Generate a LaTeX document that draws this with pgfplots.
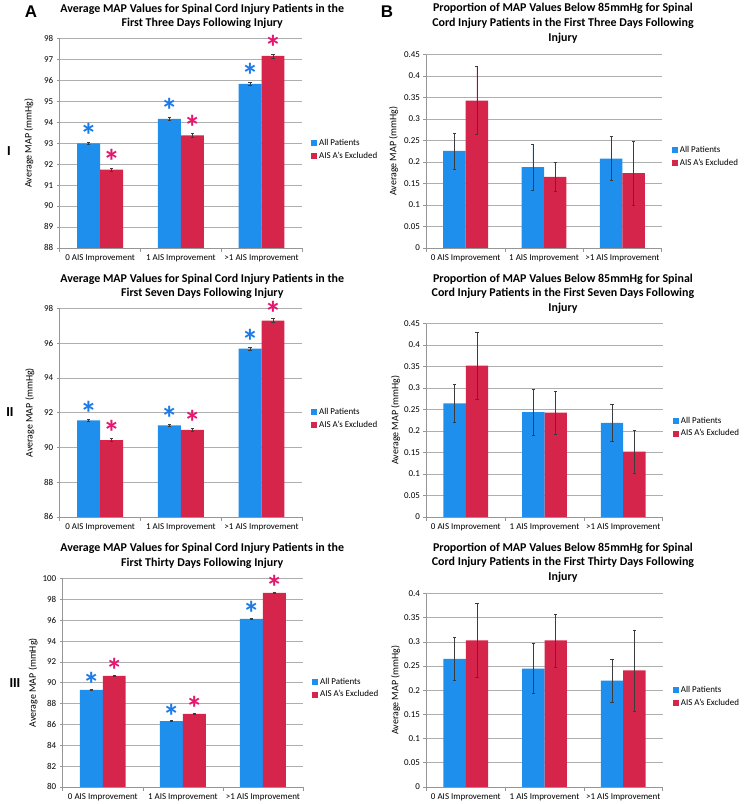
\documentclass[border=0pt]{standalone}
\usepackage{pgfplots}
\pgfplotsset{compat=1.18}
\usepackage{fontspec}
\setmainfont{Carlito}
\newfontfamily\letterfont{Liberation Sans}
\definecolor{barblue}{RGB}{31,143,238}
\definecolor{barred}{RGB}{214,37,74}
\definecolor{starblue}{RGB}{28,122,232}
\definecolor{starred}{RGB}{228,22,110}
\definecolor{gridgray}{RGB}{175,175,175}
\definecolor{axgray}{RGB}{150,150,150}
\definecolor{errgray}{RGB}{60,60,60}
\newcommand\tfont{\fontsize{12}{14.7}\selectfont\bfseries}
\newcommand\sfont{\fontsize{9}{10.5}\selectfont}
\newcommand\lfont{\fontsize{10}{12}\selectfont}
\newcommand\starfont{\fontsize{34}{34}\selectfont\bfseries}
\pgfplotsset{
 mapbase/.style={
  scale only axis,
  ybar=0pt, bar width=23pt,
  xmin=-0.5, xmax=2.5,
  xtick={0,1,2},
  xticklabels={0 AIS Improvement,1 AIS Improvement,>1 AIS Improvement},
  major x tick style={draw=none},
  extra x ticks={-0.5,0.5,1.5,2.5},
  extra x tick labels={},
  extra x tick style={major tick length=4pt, major x tick style={draw=axgray, line width=0.6pt}, grid=none},
  axis x line*=bottom, axis y line*=left,
  axis line style={draw=axgray, line width=0.7pt, -},
  tick align=outside, major tick length=3pt,
  major y tick style={draw=axgray, line width=0.6pt},
  ymajorgrids, grid style={draw=gridgray, line width=0.6pt},
  tick label style={font=\sfont, text=black},
  /pgf/number format/assume math mode=true,
  scaled y ticks=false,
  legend style={draw=none, fill=none, font=\sfont, anchor=west, row sep=1pt,
    /tikz/every even column/.append style={column sep=2pt}},
  legend cell align=left,
  legend image code/.code={\fill[##1, draw=none] (0pt,-3pt) rectangle (6pt,3pt);},
  ylabel={Average MAP (mmHg)},
  ylabel style={font=\lfont},
 },
 errs/.style={
   error bars/y dir=both, error bars/y explicit,
   error bars/error bar style={draw=errgray, line width=0.5pt},
   error bars/error mark options={rotate=90, mark size=1.6pt, draw=errgray, line width=0.5pt}},
 bluebar/.style={fill=barblue, draw=none, errs},
 redbar/.style={fill=barred, draw=none, errs},
 bluestar/.style={nodes near coords={*},
   every node near coord/.append style={font=\starfont, text=starblue, anchor=base, yshift=#1}},
 redstar/.style={nodes near coords={*},
   every node near coord/.append style={font=\starfont, text=starred, anchor=base, yshift=#1}},
}
\begin{document}
\begin{tikzpicture}
\path (0pt,0pt) rectangle (741pt,-804pt);
% ---------- panel letters and row numerals
\node[font=\letterfont\fontsize{17}{17}\selectfont\bfseries] at (31pt,-8.5pt) {A};
\node[font=\letterfont\fontsize{17}{17}\selectfont\bfseries] at (388.5pt,-8.5pt) {B};
\node[font=\letterfont\fontsize{13}{13}\selectfont\bfseries] at (9pt,-148.5pt) {I};
\node[font=\letterfont\fontsize{13}{13}\selectfont\bfseries] at (10pt,-411pt) {II};
\node[font=\letterfont\fontsize{13}{13}\selectfont\bfseries] at (15pt,-682.5pt) {III};
% ---------- titles
\node[align=center, font=\tfont] at (203pt,-13.5pt) {Average MAP Values for Spinal Cord Injury Patients in the\\First Three Days Following Injury};
\node[align=center, font=\tfont] at (565pt,-20.5pt) {Proportion of MAP Values Below 85mmHg for Spinal\\Cord Injury Patients in the First Three Days Following\\Injury};
\node[align=center, font=\tfont] at (203pt,-284.5pt) {Average MAP Values for Spinal Cord Injury Patients in the\\First Seven Days Following Injury};
\node[align=center, font=\tfont] at (565pt,-292pt) {Proportion of MAP Values Below 85mmHg for Spinal\\Cord Injury Patients in the First Seven Days Following\\Injury};
\node[align=center, font=\tfont] at (203pt,-555pt) {Average MAP Values for Spinal Cord Injury Patients in the\\First Thirty Days Following Injury};
\node[align=center, font=\tfont] at (565pt,-562pt) {Proportion of MAP Values Below 85mmHg for Spinal\\Cord Injury Patients in the First Thirty Days Following\\Injury};

% ---------- Panel A-I
\begin{axis}[mapbase, at={(60pt,-246pt)}, anchor=south west, width=243pt, height=210pt,
  ymin=88, ymax=98, ytick={88,89,...,98},
  ylabel style={at={(axis description cs:-0.128,0.5)}, anchor=center},
  legend style={at={(1.025,0.47)}}]
\addplot[bluebar, bluestar=-4pt] coordinates {(0,92.99) +- (0,0.06) (1,94.17) +- (0,0.07) (2,95.84) +- (0,0.08)};
\addplot[redbar, redstar=-4pt] coordinates {(0,91.74) +- (0,0.08) (1,93.38) +- (0,0.08) (2,97.17) +- (0,0.09)};
\legend{All Patients, AIS A's Excluded}
\end{axis}

% ---------- Panel B-I
\begin{axis}[mapbase, at={(428pt,-246pt)}, anchor=south west, width=236pt, height=194pt,
  bar width=22.5pt,
  ymin=0, ymax=0.45, ytick={0,0.05,...,0.46},
  yticklabel style={/pgf/number format/fixed, /pgf/number format/precision=2},
  ylabel style={at={(axis description cs:-0.14,0.5)}, anchor=center},
  legend style={at={(1.03,0.474)}}]
\addplot[bluebar] coordinates {(0,0.226) +- (0,0.042) (1,0.188) +- (0,0.053) (2,0.208) +- (0,0.051)};
\addplot[redbar] coordinates {(0,0.343) +- (0,0.079) (1,0.165) +- (0,0.034) (2,0.174) +- (0,0.074)};
\legend{All Patients, AIS A's Excluded}
\end{axis}

% ---------- Panel A-II
\begin{axis}[mapbase, at={(60pt,-516pt)}, anchor=south west, width=243pt, height=209pt,
  ymin=86, ymax=98, ytick={86,88,...,98},
  ylabel style={at={(axis description cs:-0.124,0.5)}, anchor=center},
  legend style={at={(1.025,0.471)}}]
\addplot[bluebar, bluestar=-5pt] coordinates {(0,91.56) +- (0,0.05) (1,91.28) +- (0,0.06) (2,95.70) +- (0,0.09)};
\addplot[redbar, redstar=-5pt] coordinates {(0,90.43) +- (0,0.09) (1,91.02) +- (0,0.09) (2,97.31) +- (0,0.12)};
\legend{All Patients, AIS A's Excluded}
\end{axis}

% ---------- Panel B-II
\begin{axis}[mapbase, at={(428pt,-516pt)}, anchor=south west, width=237pt, height=194pt,
  bar width=22.5pt,
  ymin=0, ymax=0.45, ytick={0,0.05,...,0.46},
  yticklabel style={/pgf/number format/fixed, /pgf/number format/precision=2},
  ylabel style={at={(axis description cs:-0.131,0.5)}, anchor=center},
  legend style={at={(1.03,0.464)}}]
\addplot[bluebar] coordinates {(0,0.264) +- (0,0.044) (1,0.244) +- (0,0.053) (2,0.219) +- (0,0.044)};
\addplot[redbar] coordinates {(0,0.352) +- (0,0.077) (1,0.243) +- (0,0.050) (2,0.152) +- (0,0.050)};
\legend{All Patients, AIS A's Excluded}
\end{axis}

% ---------- Panel A-III
\begin{axis}[mapbase, at={(63pt,-787pt)}, anchor=south west, width=241pt, height=209pt,
  ymin=80, ymax=100, ytick={80,82,...,100},
  ylabel style={at={(axis description cs:-0.124,0.5)}, anchor=center},
  legend style={at={(1.025,0.474)}}]
\addplot[bluebar, bluestar=-7pt] coordinates {(0,89.31) +- (0,0.06) (1,86.32) +- (0,0.06) (2,96.14) +- (0,0.07)};
\addplot[redbar, redstar=-7pt] coordinates {(0,90.66) +- (0,0.07) (1,87.02) +- (0,0.06) (2,98.64) +- (0,0.08)};
\legend{All Patients, AIS A's Excluded}
\end{axis}

% ---------- Panel B-III
\begin{axis}[mapbase, at={(428pt,-787pt)}, anchor=south west, width=237pt, height=194pt,
  bar width=22.5pt,
  ymin=0, ymax=0.4, ytick={0,0.05,...,0.41},
  yticklabel style={/pgf/number format/fixed, /pgf/number format/precision=2},
  ylabel style={at={(axis description cs:-0.131,0.5)}, anchor=center},
  legend style={at={(1.03,0.469)}}]
\addplot[bluebar] coordinates {(0,0.265) +- (0,0.044) (1,0.245) +- (0,0.052) (2,0.220) +- (0,0.044)};
\addplot[redbar] coordinates {(0,0.303) +- (0,0.077) (1,0.303) +- (0,0.055) (2,0.241) +- (0,0.084)};
\legend{All Patients, AIS A's Excluded}
\end{axis}
\end{tikzpicture}
\end{document}
